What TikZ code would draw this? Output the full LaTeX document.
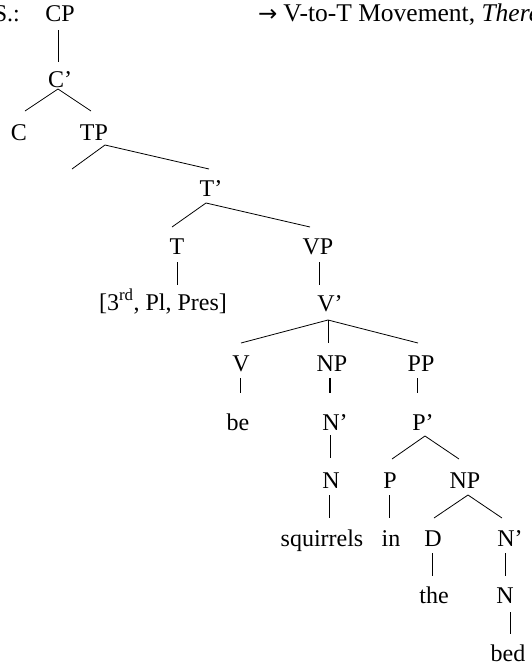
\documentclass[tikz,border=0pt]{standalone}
\usepackage{fontspec}
\setmainfont{Liberation Serif}
\newfontfamily\arrowfont{DejaVu Sans}
\begin{document}
\begin{tikzpicture}[x=1pt,y=-1pt,
  lbl/.style={anchor=base,inner sep=0pt,font=\fontsize{24}{28}\selectfont},
  headlbl/.style={anchor=base west,inner sep=0pt,font=\fontsize{25.5}{30}\selectfont},
  edge/.style={line width=0.8pt},
  boldedge/.style={line width=2pt}]
\useasboundingbox (0,0) rectangle (531,667);
\clip (0,0) rectangle (531,667);

% heading texts
\node[lbl,anchor=base east] (sl) at (20,21) {S.:};
\node[headlbl] (head) at (258,21) {{\arrowfont\fontsize{23}{26}\selectfont →}\hspace{6pt}V-to-T Movement, \textit{There}};

% nodes
\node[lbl] (CP)  at (60,21)  {CP};
\node[lbl] (Cb)  at (60,87)  {C’};
\node[lbl] (C)   at (19,140) {C};
\node[lbl] (TP)  at (94,140) {TP};
\node[lbl] (Tb)  at (211,196) {T’};
\node[lbl] (T)   at (177,254) {T};
\node[lbl] (VP)  at (318,254) {VP};
\node[lbl] (feat) at (163,310) {[3\textsuperscript{rd}, Pl, Pres]};
\node[lbl] (Vb)  at (330,311) {V’};
\node[lbl] (V)   at (241,371) {V};
\node[lbl] (NP)  at (332,371) {NP};
\node[lbl] (PP)  at (421,371) {PP};
\node[lbl] (be)  at (238,430) {be};
\node[lbl] (Nb)  at (335,430) {N’};
\node[lbl] (Pb)  at (423,430) {P’};
\node[lbl] (N)   at (331,488) {N};
\node[lbl] (P)   at (390,488) {P};
\node[lbl] (NPb) at (465,488) {NP};
\node[lbl] (sq)  at (322,546) {squirrels};
\node[lbl] (in)  at (391,546) {in};
\node[lbl] (D)   at (433,546) {D};
\node[lbl] (Nb2) at (510,546) {N’};
\node[lbl] (the) at (434,603) {the};
\node[lbl] (N2)  at (505,603) {N};
\node[lbl] (bed) at (508,661) {bed};

% branch coordinates
\coordinate (cpB) at (58,30);   \coordinate (cbT) at (58,62);
\coordinate (cbA) at (58,89);   \coordinate (cL) at (25,111);  \coordinate (tpT) at (91,111);
\coordinate (tpA) at (105,145); \coordinate (specL) at (72,169); \coordinate (tbT) at (209,169);
\coordinate (tbA) at (206,203); \coordinate (tT) at (172,227); \coordinate (vpT) at (310,227);
\coordinate (tB) at (177,262);  \coordinate (featT) at (177,285);
\coordinate (vpB) at (319,262); \coordinate (vbT) at (319,285);
\coordinate (vbA) at (328,320); \coordinate (vT) at (241,343); \coordinate (npT) at (328,343); \coordinate (ppT) at (418,343);
\coordinate (vB) at (240,378);  \coordinate (beT) at (240,393);
\coordinate (npB) at (330,378); \coordinate (nbT) at (330,393);
\coordinate (ppB) at (417,378); \coordinate (pbT) at (417,393);
\coordinate (nbB) at (330,435); \coordinate (nT) at (330,458);
\coordinate (pbA) at (425,436); \coordinate (pT) at (392,459); \coordinate (npbT) at (459,459);
\coordinate (nB) at (329,495);  \coordinate (sqT) at (329,518);
\coordinate (pB) at (389,495);  \coordinate (inT) at (389,518);
\coordinate (npbA) at (468,495); \coordinate (dT) at (434,518); \coordinate (nb2T) at (502,518);
\coordinate (dB) at (432,553);  \coordinate (theT) at (432,576);
\coordinate (nb2B) at (505,553); \coordinate (n2T) at (505,576);
\coordinate (n2B) at (510,612); \coordinate (bedT) at (510,634);

% branches
\draw[edge] (cpB) -- (cbT);
\draw[edge] (cL) -- (cbA) -- (tpT);
\draw[edge] (specL) -- (tpA) -- (tbT);
\draw[edge] (tT) -- (tbA) -- (vpT);
\draw[edge] (tB) -- (featT);
\draw[edge] (vpB) -- (vbT);
\draw[edge] (vT) -- (vbA) -- (ppT);
\draw[edge] (vbA) -- (npT);
\draw[edge] (vB) -- (beT);
\draw[boldedge] (npB) -- (nbT);
\draw[edge] (ppB) -- (pbT);
\draw[edge] (nbB) -- (nT);
\draw[edge] (pT) -- (pbA) -- (npbT);
\draw[edge] (nB) -- (sqT);
\draw[edge] (pB) -- (inT);
\draw[edge] (dT) -- (npbA) -- (nb2T);
\draw[edge] (dB) -- (theT);
\draw[edge] (nb2B) -- (n2T);
\draw[edge] (n2B) -- (bedT);
\end{tikzpicture}
\end{document}
